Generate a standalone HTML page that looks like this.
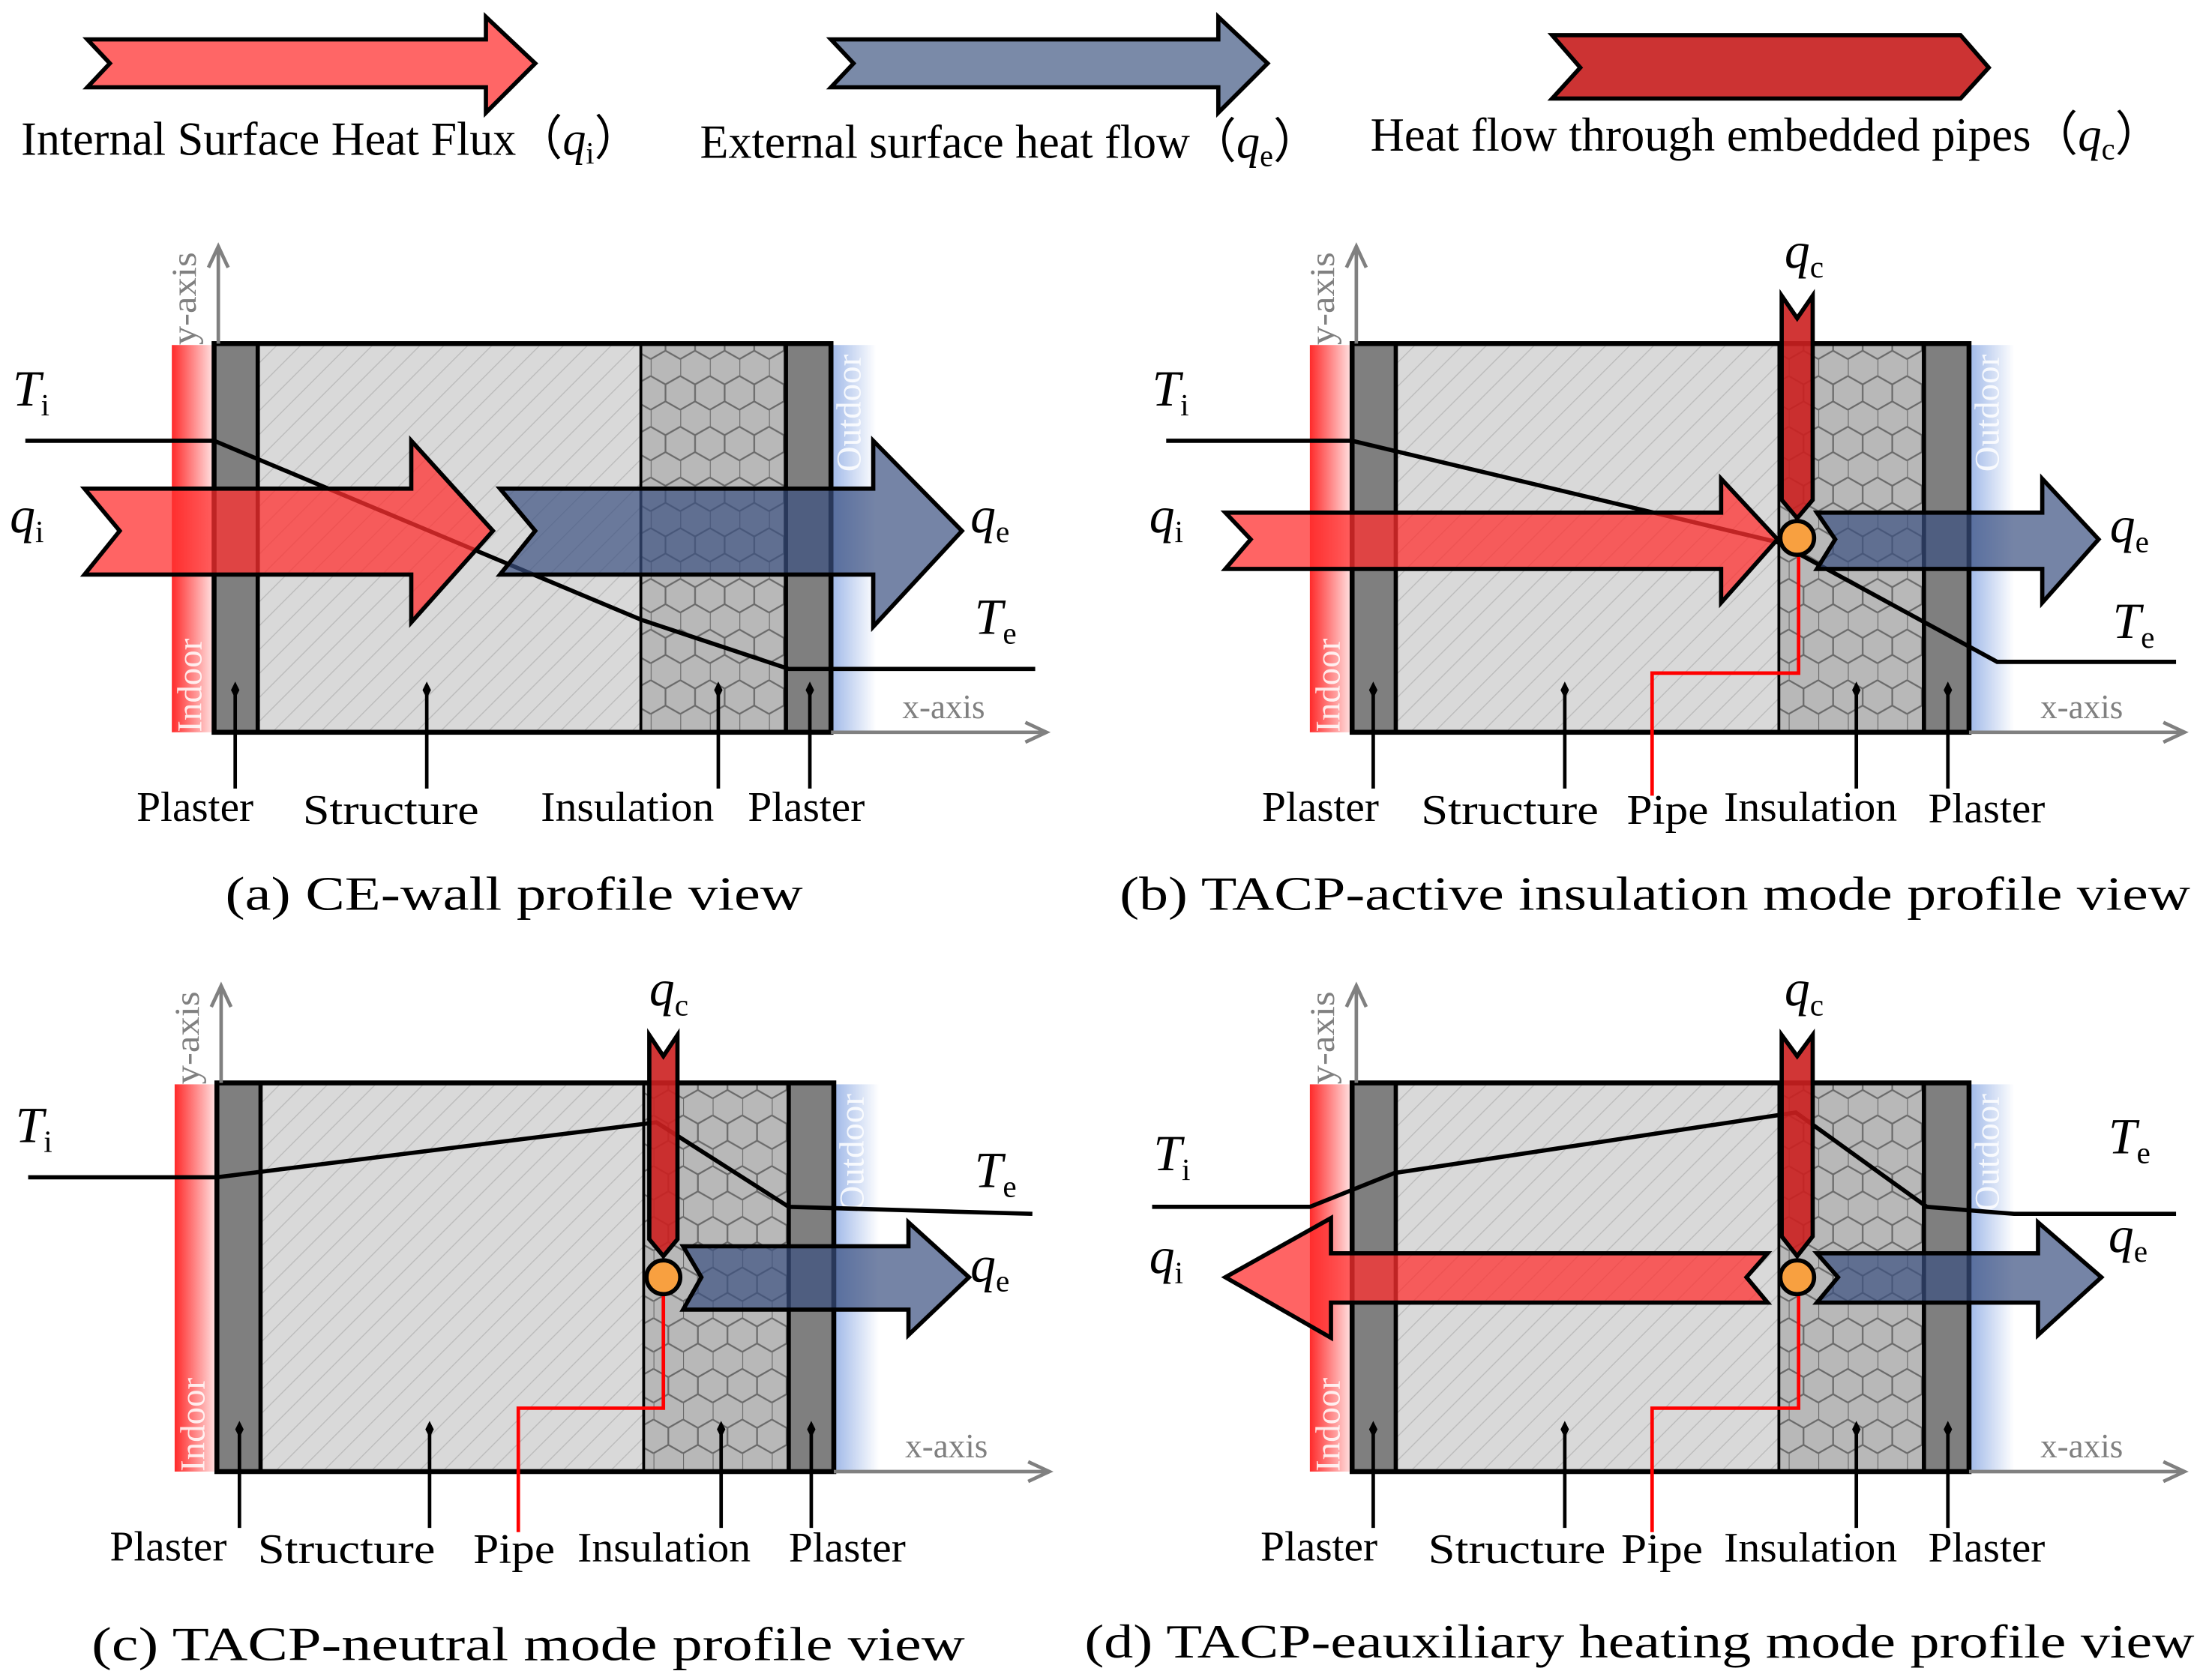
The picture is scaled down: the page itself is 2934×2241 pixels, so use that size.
<!DOCTYPE html>
<html><head><meta charset="utf-8"><style>
html,body{margin:0;padding:0;background:#fff;}
svg{display:block;}
text{font-family:"Liberation Serif",serif;}
</style></head><body>
<svg width="2934" height="2241" viewBox="0 0 1562 1193" preserveAspectRatio="none" xmlns="http://www.w3.org/2000/svg">
<defs>
<linearGradient id="gin" x1="0" x2="1" y1="0" y2="0"><stop offset="0" stop-color="#ff2a2a"/><stop offset="1" stop-color="#ffe6e6"/></linearGradient>
<linearGradient id="gout" x1="0" x2="1" y1="0" y2="0"><stop offset="0" stop-color="#9fb8e8"/><stop offset="1" stop-color="#ffffff"/></linearGradient>
<pattern id="hatch" width="12" height="12" patternUnits="userSpaceOnUse" patternTransform="rotate(45)">
<rect width="12" height="12" fill="#d9d9d9"/><line x1="0" y1="0" x2="0" y2="12" stroke="#bcbcbc" stroke-width="1.5"/></pattern>
<pattern id="hex" width="21" height="36" patternUnits="userSpaceOnUse">
<rect width="21" height="36" fill="#b8b8b8"/>
<path d="M0,3 V15 L10.5,21 L21,15 M10.5,21 V33 L0,39 M10.5,33 L21,39 M0,3 L10.5,-3 L21,3" fill="none" stroke="#6a6a6a" stroke-width="1.2"/></pattern>
<g id="wall">
<rect x="122" y="245" width="30" height="275" fill="url(#gin)"/>
<rect x="590" y="245" width="32" height="275" fill="url(#gout)"/>
<rect x="183" y="244" width="272" height="276" fill="url(#hatch)"/>
<rect x="455" y="244" width="103" height="276" fill="url(#hex)"/>
<rect x="152" y="244" width="31" height="276" fill="#7f7f7f"/>
<rect x="558" y="244" width="32" height="276" fill="#7f7f7f"/>
<line x1="183" y1="244" x2="183" y2="520" stroke="#000" stroke-width="3"/>
<line x1="455" y1="244" x2="455" y2="520" stroke="#000" stroke-width="2"/>
<line x1="558" y1="244" x2="558" y2="520" stroke="#000" stroke-width="3"/>
<rect x="152" y="244" width="438" height="276" fill="none" stroke="#000" stroke-width="3.5"/>
<line x1="155" y1="244" x2="155" y2="178" stroke="#808080" stroke-width="2.5"/>
<path d="M148,190 L155,175 L162,190" fill="none" stroke="#808080" stroke-width="2.5"/>
<line x1="590" y1="520" x2="740" y2="520" stroke="#808080" stroke-width="2.5"/>
<path d="M728,513 L743,520 L728,527" fill="none" stroke="#808080" stroke-width="2.5"/>
<text x="670" y="510" font-size="24" fill="#808080" text-anchor="middle">x-axis</text>
<text transform="translate(139,245) rotate(-90)" font-size="25" fill="#808080" textLength="66" lengthAdjust="spacingAndGlyphs">y-axis</text>
<text transform="translate(143,520) rotate(-90)" font-size="25" fill="#ffffff" fill-opacity="0.85">Indoor</text>
<text transform="translate(611,335) rotate(-90)" font-size="25" fill="#ffffff" fill-opacity="0.85">Outdoor</text>
</g>
<path id="dm" d="M0,-6 L3,0 L0,6 L-3,0 Z" fill="#000"/>
</defs>

<!-- Legend -->
<polygon points="62,28 345,28 345,12 380,45 345,80 345,62 62,62 78,45" fill="#ff6666" stroke="#000" stroke-width="3"/>
<polygon points="590,28 865,28 865,12 900,45 865,80 865,62 590,62 606,45" fill="#7a8aa8" stroke="#000" stroke-width="3"/>
<polygon points="1102,25 1392,25 1412,48 1392,70 1102,70 1122,48" fill="#cc3333" stroke="#000" stroke-width="3"/>
<text x="15" y="110" font-size="34" textLength="440" lengthAdjust="spacingAndGlyphs">Internal Surface Heat Flux（<tspan font-style="italic">q</tspan><tspan font-size="22" dy="6">i</tspan><tspan dy="-6">）</tspan></text>
<text x="497" y="112" font-size="34" textLength="440" lengthAdjust="spacingAndGlyphs">External surface heat flow（<tspan font-style="italic">q</tspan><tspan font-size="22" dy="6">e</tspan><tspan dy="-6">）</tspan></text>
<text x="973" y="107" font-size="34" textLength="562" lengthAdjust="spacingAndGlyphs">Heat flow through embedded pipes（<tspan font-style="italic">q</tspan><tspan font-size="22" dy="6">c</tspan><tspan dy="-6">）</tspan></text>

<!-- Panel a -->
<use href="#wall"/>
<polyline points="18,313 152,313 455,440 560,475 735,475" fill="none" stroke="#000" stroke-width="3"/>
<polygon points="60,347 292,347 292,313 350,377 292,442 292,408 60,408 85,377" fill="#ff3030" fill-opacity="0.75" stroke="#000" stroke-width="3"/>
<polygon points="355,347 620,347 620,313 683,377 620,445 620,408 355,408 380,377" fill="#3a5080" fill-opacity="0.7" stroke="#000" stroke-width="3"/>
<text x="9" y="288" font-size="36" font-style="italic">T<tspan font-size="22" font-style="normal" dy="7">i</tspan></text>
<text x="7" y="378" font-size="36" font-style="italic">q<tspan font-size="22" font-style="normal" dy="7">i</tspan></text>
<text x="689" y="378" font-size="36" font-style="italic">q<tspan font-size="22" font-style="normal" dy="7">e</tspan></text>
<text x="692" y="450" font-size="36" font-style="italic">T<tspan font-size="22" font-style="normal" dy="7">e</tspan></text>
<g stroke="#000" stroke-width="2.5"><line x1="167" y1="490" x2="167" y2="560"/><line x1="303" y1="490" x2="303" y2="560"/><line x1="510" y1="490" x2="510" y2="560"/><line x1="575" y1="490" x2="575" y2="560"/></g>
<use href="#dm" x="167" y="490"/><use href="#dm" x="303" y="490"/><use href="#dm" x="510" y="490"/><use href="#dm" x="575" y="490"/>
<g font-size="30" lengthAdjust="spacingAndGlyphs"><text x="97" y="583" textLength="83" lengthAdjust="spacingAndGlyphs">Plaster</text><text x="215" y="585" textLength="125" lengthAdjust="spacingAndGlyphs">Structure</text><text x="384" y="583" textLength="123" lengthAdjust="spacingAndGlyphs">Insulation</text><text x="531" y="583" textLength="83" lengthAdjust="spacingAndGlyphs">Plaster</text></g>
<text x="160" y="646" font-size="34" textLength="410" lengthAdjust="spacingAndGlyphs">(a)  CE-wall profile view</text>

<!-- Panel b -->
<use href="#wall" x="808"/>
<polyline points="828,313 960,313 1262,385 1418,470 1545,470" fill="none" stroke="#000" stroke-width="3"/>
<polygon points="870,364 1222,364 1222,340 1262,383 1222,428 1222,404 870,404 888,383" fill="#ff3030" fill-opacity="0.75" stroke="#000" stroke-width="3"/>
<polygon points="1290,364 1450,364 1450,340 1490,383 1450,428 1450,404 1290,404 1303,383" fill="#3a5080" fill-opacity="0.7" stroke="#000" stroke-width="3"/>
<polygon points="1265,210 1276,226 1287,210 1287,355 1276,368 1265,355" fill="#cc2020" fill-opacity="0.9" stroke="#000" stroke-width="3"/>
<polyline points="1277,390 1277,478 1173,478 1173,565" fill="none" stroke="#ff0000" stroke-width="2.5"/>
<circle cx="1276" cy="382" r="12" fill="#f8a040" stroke="#000" stroke-width="3"/>
<text x="818" y="288" font-size="36" font-style="italic">T<tspan font-size="22" font-style="normal" dy="7">i</tspan></text>
<text x="816" y="378" font-size="36" font-style="italic">q<tspan font-size="22" font-style="normal" dy="7">i</tspan></text>
<text x="1498" y="385" font-size="36" font-style="italic">q<tspan font-size="22" font-style="normal" dy="7">e</tspan></text>
<text x="1500" y="453" font-size="36" font-style="italic">T<tspan font-size="22" font-style="normal" dy="7">e</tspan></text>
<text x="1267" y="190" font-size="36" font-style="italic">q<tspan font-size="22" font-style="normal" dy="7">c</tspan></text>
<g stroke="#000" stroke-width="2.5"><line x1="975" y1="490" x2="975" y2="560"/><line x1="1111" y1="490" x2="1111" y2="560"/><line x1="1318" y1="490" x2="1318" y2="560"/><line x1="1383" y1="490" x2="1383" y2="560"/></g>
<use href="#dm" x="975" y="490"/><use href="#dm" x="1111" y="490"/><use href="#dm" x="1318" y="490"/><use href="#dm" x="1383" y="490"/>
<g font-size="30"><text x="896" y="583" textLength="83" lengthAdjust="spacingAndGlyphs">Plaster</text><text x="1009" y="585" textLength="126" lengthAdjust="spacingAndGlyphs">Structure</text><text x="1155" y="585" textLength="58" lengthAdjust="spacingAndGlyphs">Pipe</text><text x="1224" y="583" textLength="123" lengthAdjust="spacingAndGlyphs">Insulation</text><text x="1369" y="584" textLength="83" lengthAdjust="spacingAndGlyphs">Plaster</text></g>
<text x="795" y="646" font-size="34" textLength="760" lengthAdjust="spacingAndGlyphs">(b)  TACP-active insulation mode profile view</text>

<!-- Panel c -->
<use href="#wall" x="2" y="525"/>
<polyline points="20,836 154,836 466,797 560,857 733,862" fill="none" stroke="#000" stroke-width="3"/>
<polygon points="485,885 645,885 645,868 688,907 645,948 645,930 485,930 498,907" fill="#3a5080" fill-opacity="0.7" stroke="#000" stroke-width="3"/>
<polygon points="461,735 471,750 481,735 481,880 471,892 461,880" fill="#cc2020" fill-opacity="0.9" stroke="#000" stroke-width="3"/>
<polyline points="471,915 471,1000 368,1000 368,1088" fill="none" stroke="#ff0000" stroke-width="2.5"/>
<circle cx="471" cy="907" r="12" fill="#f8a040" stroke="#000" stroke-width="3"/>
<text x="11" y="811" font-size="36" font-style="italic">T<tspan font-size="22" font-style="normal" dy="7">i</tspan></text>
<text x="692" y="843" font-size="36" font-style="italic">T<tspan font-size="22" font-style="normal" dy="7">e</tspan></text>
<text x="689" y="910" font-size="36" font-style="italic">q<tspan font-size="22" font-style="normal" dy="7">e</tspan></text>
<text x="461" y="714" font-size="36" font-style="italic">q<tspan font-size="22" font-style="normal" dy="7">c</tspan></text>
<g stroke="#000" stroke-width="2.5"><line x1="170" y1="1015" x2="170" y2="1085"/><line x1="305" y1="1015" x2="305" y2="1085"/><line x1="512" y1="1015" x2="512" y2="1085"/><line x1="576" y1="1015" x2="576" y2="1085"/></g>
<use href="#dm" x="170" y="1015"/><use href="#dm" x="305" y="1015"/><use href="#dm" x="512" y="1015"/><use href="#dm" x="576" y="1015"/>
<g font-size="30"><text x="78" y="1108" textLength="83" lengthAdjust="spacingAndGlyphs">Plaster</text><text x="183" y="1110" textLength="126" lengthAdjust="spacingAndGlyphs">Structure</text><text x="336" y="1110" textLength="58" lengthAdjust="spacingAndGlyphs">Pipe</text><text x="410" y="1109" textLength="123" lengthAdjust="spacingAndGlyphs">Insulation</text><text x="560" y="1109" textLength="83" lengthAdjust="spacingAndGlyphs">Plaster</text></g>
<text x="65" y="1179" font-size="34" textLength="620" lengthAdjust="spacingAndGlyphs">(c)  TACP-neutral mode profile view</text>

<!-- Panel d -->
<use href="#wall" x="808" y="525"/>
<polyline points="818,857 930,857 990,833 1275,790 1368,857 1430,862 1545,862" fill="none" stroke="#000" stroke-width="3"/>
<polygon points="1255,890 945,890 945,865 870,907 945,950 945,925 1255,925 1240,907" fill="#ff3030" fill-opacity="0.75" stroke="#000" stroke-width="3"/>
<polygon points="1290,890 1447,890 1447,868 1492,907 1447,948 1447,925 1290,925 1305,907" fill="#3a5080" fill-opacity="0.7" stroke="#000" stroke-width="3"/>
<polygon points="1265,735 1276,750 1287,735 1287,878 1276,892 1265,878" fill="#cc2020" fill-opacity="0.9" stroke="#000" stroke-width="3"/>
<polyline points="1277,915 1277,1000 1173,1000 1173,1088" fill="none" stroke="#ff0000" stroke-width="2.5"/>
<circle cx="1276" cy="907" r="12" fill="#f8a040" stroke="#000" stroke-width="3"/>
<text x="819" y="831" font-size="36" font-style="italic">T<tspan font-size="22" font-style="normal" dy="7">i</tspan></text>
<text x="1497" y="819" font-size="36" font-style="italic">T<tspan font-size="22" font-style="normal" dy="7">e</tspan></text>
<text x="816" y="904" font-size="36" font-style="italic">q<tspan font-size="22" font-style="normal" dy="7">i</tspan></text>
<text x="1497" y="889" font-size="36" font-style="italic">q<tspan font-size="22" font-style="normal" dy="7">e</tspan></text>
<text x="1267" y="714" font-size="36" font-style="italic">q<tspan font-size="22" font-style="normal" dy="7">c</tspan></text>
<g stroke="#000" stroke-width="2.5"><line x1="975" y1="1015" x2="975" y2="1085"/><line x1="1111" y1="1015" x2="1111" y2="1085"/><line x1="1318" y1="1015" x2="1318" y2="1085"/><line x1="1383" y1="1015" x2="1383" y2="1085"/></g>
<use href="#dm" x="975" y="1015"/><use href="#dm" x="1111" y="1015"/><use href="#dm" x="1318" y="1015"/><use href="#dm" x="1383" y="1015"/>
<g font-size="30"><text x="895" y="1108" textLength="83" lengthAdjust="spacingAndGlyphs">Plaster</text><text x="1014" y="1110" textLength="126" lengthAdjust="spacingAndGlyphs">Structure</text><text x="1151" y="1110" textLength="58" lengthAdjust="spacingAndGlyphs">Pipe</text><text x="1224" y="1109" textLength="123" lengthAdjust="spacingAndGlyphs">Insulation</text><text x="1369" y="1109" textLength="83" lengthAdjust="spacingAndGlyphs">Plaster</text></g>
<text x="770" y="1177" font-size="34" textLength="788" lengthAdjust="spacingAndGlyphs">(d)  TACP-eauxiliary heating mode profile view</text>
</svg>
</body></html>
